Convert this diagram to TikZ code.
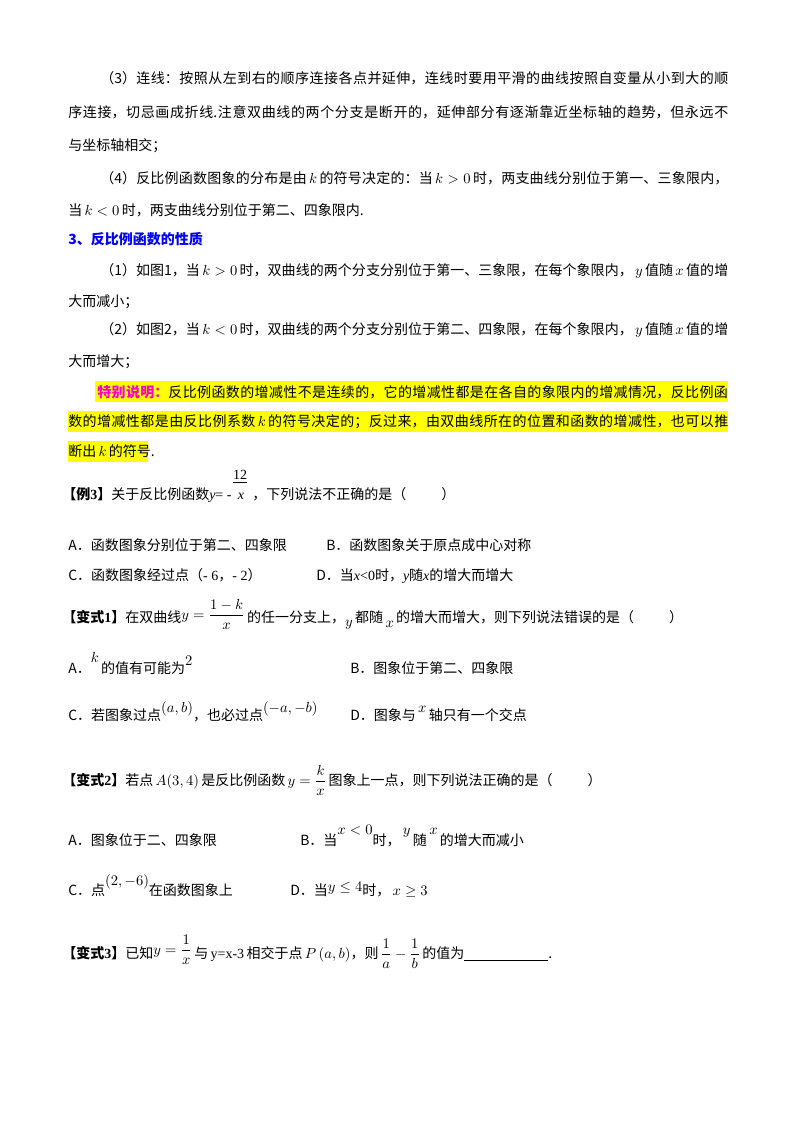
\documentclass[tikz,border=0pt]{standalone}
\usepackage{amsmath}
\usepackage{fontspec}
\setmainfont{Liberation Serif}
\newfontfamily\cjk{Noto Sans CJK SC}
\newfontfamily\lat{Liberation Serif}
\XeTeXlinebreaklocale "zh"
\XeTeXlinebreakskip=0pt plus 2pt
\definecolor{hl}{RGB}{255,255,0}
\definecolor{mag}{RGB}{255,0,204}
\definecolor{ttl}{RGB}{0,0,255}
\newcommand\Li[1]{{\lat\itshape #1}}
\newcommand\Lr[1]{{\lat #1}}
\tikzset{
 jl/.style={anchor=base west,inner sep=0pt,align=justify,font=\fontsize{10.5pt}{13pt}\selectfont\cjk},
 tl/.style={anchor=base west,inner sep=0pt,font=\fontsize{10.5pt}{13pt}\selectfont\cjk},
}
\newcommand\JL[4]{\node[jl,text width=#2] (#3) at #1 {\parfillskip=0pt #4\par};}
\begin{document}
\begin{tikzpicture}[x=0.75pt,y=-0.75pt]
\useasboundingbox[fill=white] (0,0) rectangle (800,1132);
% highlight
\fill[hl] (95,381) rectangle (728,402);
\fill[hl] (68,411) rectangle (728,432);
\fill[hl] (68,441) rectangle (148,462);
\JL{(100,83)}{471pt}{l1}{（3）连线：按照从左到右的顺序连接各点并延伸，连线时要用平滑的曲线按照自变量从小到大的顺}
\JL{(68,117)}{495pt}{l2}{序连接，切忌画成折线.注意双曲线的两个分支是断开的，延伸部分有逐渐靠近坐标轴的趋势，但永远不}
\node[tl] (l3) at (68,150) {与坐标轴相交；};
\JL{(100,183)}{471pt}{l4}{（4）反比例函数图象的分布是由\,$k$\,的符号决定的：当\,$k>0$\,时，两支曲线分别位于第一、三象限内，}
\node[tl] (l5) at (68,215) {当\,$k<0$\,时，两支曲线分别位于第二、四象限内.};
\node[tl,text=ttl,font=\fontsize{10.5pt}{13pt}\selectfont\cjk\bfseries] (t3) at (68,244) {3、反比例函数的性质};
\JL{(100,275)}{471pt}{p1}{（1）如图1，当\,$k>0$\,时，双曲线的两个分支分别位于第一、三象限，在每个象限内，\,$y$\,值随\,$x$\,值的增}
\node[tl] (p1b) at (68,306) {大而减小；};
\JL{(100,334)}{471pt}{p2}{（2）如图2，当\,$k<0$\,时，双曲线的两个分支分别位于第二、四象限，在每个象限内，\,$y$\,值随\,$x$\,值的增}
\node[tl] (p2b) at (68,366) {大而增大；};
\JL{(97,397)}{473pt}{s1}{{\color{mag}\bfseries 特别说明：}反比例函数的增减性不是连续的，它的增减性都是在各自的象限内的增减情况，反比例函}
\JL{(68,426)}{495pt}{s2}{数的增减性都是由反比例系数\,$k$\,的符号决定的；反过来，由双曲线所在的位置和函数的增减性，也可以推}
\node[tl] (s3) at (68,456) {断出\,$k$\,的符号.};
% Example 3
\node[tl] (e3) at (62,499) {\textbf{【例\Lr{\bfseries 3}】}关于反比例函数\Li{y}\Lr{= -}};
\node[anchor=base,inner sep=0pt,font=\fontsize{10.5pt}{13pt}\selectfont] (e3n) at (240,479) {12};
\draw (e3n.south west)++(0,3) -- ++(14,0);
\node[anchor=base,inner sep=0pt,font=\fontsize{10.5pt}{13pt}\selectfont\itshape] (e3d) at (241,499) {x};
\node[tl] (e3b) at (252,499) {，下列说法不正确的是（\hspace{2.5em}）};
\node[tl] (e3A) at (68,550) {A．函数图象分别位于第二、四象限};
\node[tl] (e3B) at (326,550) {B．函数图象关于原点成中心对称};
\node[tl] (e3C) at (68,580) {C．函数图象经过点（\Lr{- 6}，\Lr{- 2}）};
\node[tl] (e3D) at (316,580) {D．当\Li{x}\Lr{<0}时，\Li{y}随\Li{x}的增大而增大};
% Variant 1
\node[tl] (v1) at (62,622) {\textbf{【变式\Lr{\bfseries 1}】}在双曲线\raisebox{2pt}{$y=\dfrac{1-k}{x}$}\,的任一分支上，\raisebox{-3pt}{$y$}\,都随\,\raisebox{-4pt}{$x$}\,的增大而增大，则下列说法错误的是（\hspace{2.5em}）};
\node[tl] (v1A) at (68,673) {A．\raisebox{8pt}{$k$}\,的值有可能为\raisebox{6pt}{$2$}};
\node[tl] (v1B) at (350,673) {B．图象位于第二、四象限};
\node[tl] (v1C) at (68,720) {C．若图象过点\raisebox{6pt}{$\left(a,b\right)$}，也必过点\raisebox{6pt}{$\left(-a,-b\right)$}};
\node[tl] (v1D) at (350,720) {D．图象与\,\raisebox{6pt}{$x$}\,轴只有一个交点};
% Variant 2
\node[tl] (v2) at (62,785) {\textbf{【变式\Lr{\bfseries 2}】}若点\,$A(3,4)$\,是反比例函数\,$y=\dfrac{k}{x}$\,图象上一点，则下列说法正确的是（\hspace{2.5em}）};
\node[tl] (v2A) at (68,845) {A．图象位于二、四象限};
\node[tl] (v2B) at (300,845) {B．当\raisebox{8pt}{$x<0$}时，\,\raisebox{8pt}{$y$}\,随\,\raisebox{8pt}{$x$}\,的增大而减小};
\node[tl] (v2C) at (68,895) {C．点\raisebox{7pt}{$\left(2,-6\right)$}在函数图象上};
\node[tl] (v2D) at (290,895) {D．当\raisebox{3pt}{$y\leq4$}时，\,$x\geq3$};
% Variant 3
\node[tl] (v3) at (62,958) {\textbf{【变式\Lr{\bfseries 3}】}已知\raisebox{3pt}{$y=\dfrac{1}{x}$}\,与\,\Lr{y=x-3}\,相交于点\,$P\left(a,b\right)$，则\,$\dfrac{1}{a}-\dfrac{1}{b}$\,的值为\underline{\hspace{6em}}.};
\end{tikzpicture}
\end{document}
